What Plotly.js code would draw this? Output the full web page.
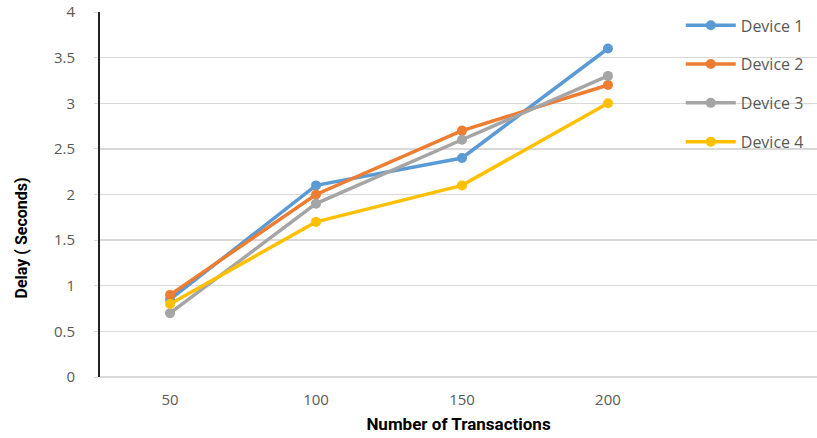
<!DOCTYPE html>
<html>
<head>
<meta charset="utf-8">
<script src="https://cdn.plot.ly/plotly-3.0.1.min.js"></script>
<style>html,body{margin:0;padding:0;background:#fff;}#chart{width:817px;height:438px;}</style>
</head>
<body>
<div id="chart"></div>
<script>
const transactions = [50, 100, 150, 200];
const tickLabels = ["50", "100", "150", "200"];
const seriesNames = ["Device 1", "Device 2", "Device 3", "Device 4"];
const device1 = [0.85, 2.1, 2.4, 3.6];
const device2 = [0.9, 2.0, 2.7, 3.2];
const device3 = [0.7, 1.9, 2.6, 3.3];
const device4 = [0.8, 1.7, 2.1, 3.0];
const colors = ["#5B9BD5", "#ED7D31", "#A5A5A5", "#FFC000"];

const allSeries = [device1, device2, device3, device4];
const traces = allSeries.map((vals, i) => ({
  x: transactions,
  y: vals,
  name: seriesNames[i],
  legendgroup: "g" + i,
  type: "scatter",
  mode: "lines+markers",
  line: {color: colors[i], width: 3.5},
  marker: {color: colors[i], size: 10}
}));

const layout = {
  width: 817, height: 438,
  margin: {l: 100, r: 0, t: 12, b: 61},
  paper_bgcolor: "#fff", plot_bgcolor: "#fff",
  font: {family: "Open Sans, sans-serif", color: "#595959", size: 15},
  showlegend: true,
  legend: {
    x: 0.81, y: 1.01, xanchor: "left", yanchor: "top",
    bgcolor: "rgba(0,0,0,0)",
    font: {size: 16, color: "#595959"},
    itemwidth: 50,
    tracegroupgap: 15
  },
  xaxis: {
    range: [26, 271.6],
    tickvals: transactions,
    ticktext: tickLabels,
    showgrid: false, zeroline: false,
    showline: false,
    ticks: "", ticklabelstandoff: 12,
    tickfont: {size: 15, color: "#595959"},
    title: {text: "Number of Transactions", font: {size: 17, color: "#000", family: "Roboto, sans-serif", weight: "bold"}, standoff: 10}
  },
  yaxis: {
    range: [0, 4],
    dtick: 0.5,
    showgrid: true, gridcolor: "#d9d9d9", gridwidth: 1.3,
    zeroline: true, zerolinecolor: "#d9d9d9", zerolinewidth: 1.6,
    showline: true, linecolor: "#222", linewidth: 2,
    ticks: "outside", ticklen: 4, tickcolor: "#d9d9d9",
    ticklabelstandoff: 16,
    tickfont: {size: 15, color: "#595959"}
  },
  annotations: [{
    text: "<b>Delay ( Seconds)</b>",
    xref: "paper", yref: "paper",
    x: -0.11, y: 0.38, xanchor: "center", yanchor: "middle",
    textangle: -90, showarrow: false,
    font: {size: 16, color: "#000", family: "Roboto, sans-serif"}
  }]
};

Plotly.newPlot("chart", traces, layout, {displayModeBar: false, staticPlot: true});
</script>
</body>
</html>
